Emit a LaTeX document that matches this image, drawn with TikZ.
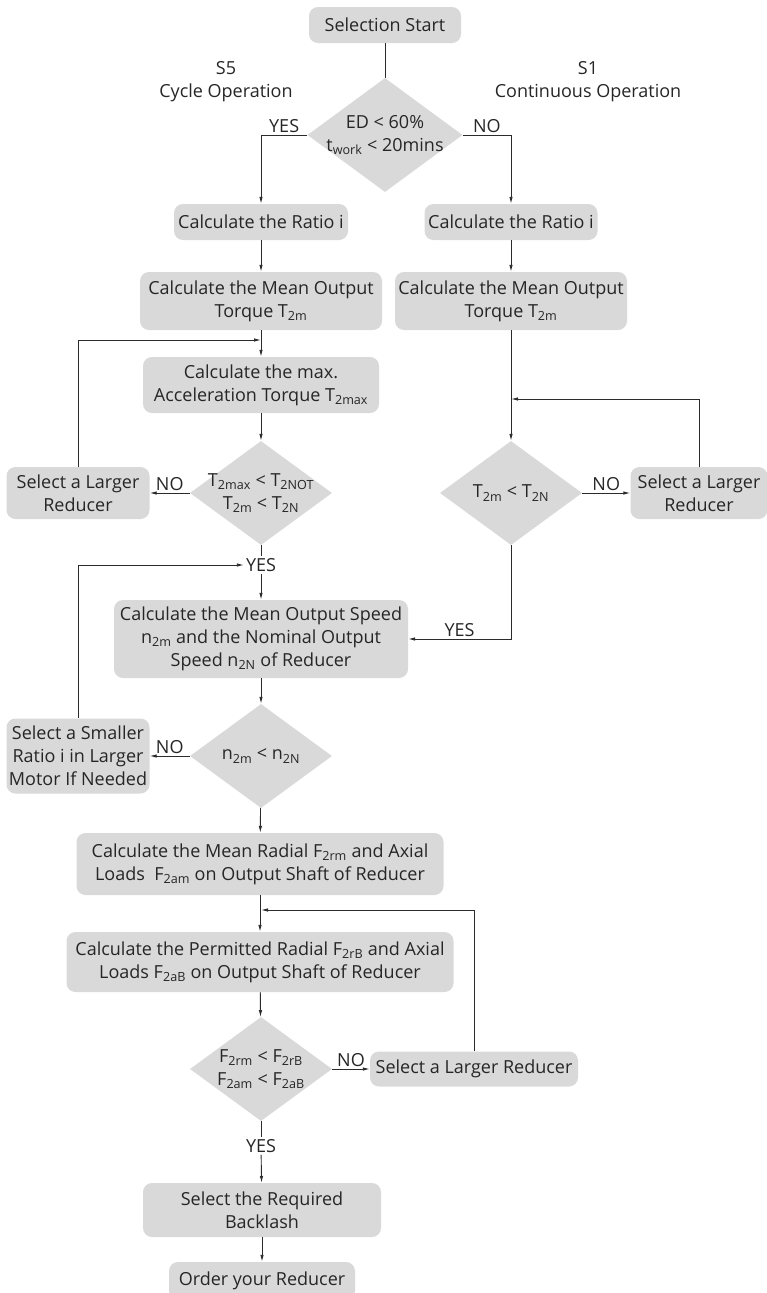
\documentclass[tikz,border=0pt]{standalone}
\usepackage{fontspec}
\setmainfont{Open Sans}
\usepackage{xcolor}
\usetikzlibrary{shapes.geometric, arrows.meta, positioning}
\definecolor{boxgray}{HTML}{D9D9D9}
\definecolor{linegray}{HTML}{2B2B2B}

\begin{document}
\begin{tikzpicture}[x=1pt, y=-1pt, >={Latex[length=7pt,width=3.5pt]},
    font=\fontsize{18}{23}\selectfont, text=black!85,
    box/.style={fill=boxgray, rounded corners=9pt, align=center, inner sep=0pt},
    decision/.style={diamond, fill=boxgray, inner sep=0pt, minimum width=142, minimum height=104},
    lbl/.style={inner sep=2pt},
    line/.style={draw=linegray, line width=0.9pt}]
    \useasboundingbox (0,0) rectangle (767,1293);

    % Bắt đầu và điều kiện chọn chế độ
    \node[box, minimum width=152, minimum height=36] (start) at (385,25) {Selection Start};
    \node[decision, minimum width=155, minimum height=114] (d1) at (385,135) {};
    \node[align=center] at (d1) {ED < 60\%\\t\textsubscript{work} < 20mins};
    \node[align=center] (s5) at (226,82) {S5\\Cycle Operation};
    \node[align=center] (s1) at (588,82) {S1\\Continuous Operation};

    % Nhánh S5 (trái)
    \node[box, minimum width=174, minimum height=36] (ratioL) at (261,222) {Calculate the Ratio i};
    \node[box, minimum width=242, minimum height=58] (torqueL) at (261,301) {Calculate the Mean Output\\Torque T\textsubscript{2m}};
    \node[box, minimum width=236, minimum height=56] (accel) at (261,385) {Calculate the max.\\Acceleration Torque T\textsubscript{2max}};
    \node[decision] (d2) at (261,493) {};
    \node[align=center] at (d2) {T\textsubscript{2max} < T\textsubscript{2NOT}\\T\textsubscript{2m} < T\textsubscript{2N}};
    \node[box, minimum width=143, minimum height=52] (largerL) at (78,493) {Select a Larger\\Reducer};

    % Nhánh S1 (phải)
    \node[box, minimum width=173, minimum height=36] (ratioR) at (511,222) {Calculate the Ratio i};
    \node[box, minimum width=232, minimum height=58] (torqueR) at (511,301) {Calculate the Mean Output\\Torque T\textsubscript{2m}};
    \node[decision] (d3) at (511,493) {};
    \node at (d3) {T\textsubscript{2m} < T\textsubscript{2N}};
    \node[box, minimum width=137, minimum height=52] (largerR) at (699,493) {Select a Larger\\Reducer};

    % Tốc độ đầu ra
    \node[lbl] (yes1) at (261,565) {YES};
    \node[box, minimum width=294, minimum height=78] (speed) at (261,639) {Calculate the Mean Output Speed\\n\textsubscript{2m} and the Nominal Output\\Speed n\textsubscript{2N} of Reducer};
    \node[decision] (d4) at (261,756) {};
    \node at (d4) {n\textsubscript{2m} < n\textsubscript{2N}};
    \node[box, minimum width=143, minimum height=75] (smaller) at (78,756) {Select a Smaller\\Ratio i in Larger\\Motor If Needed};

    % Tải trọng trục ra
    \node[box, minimum width=367, minimum height=62] (radial) at (260,864) {Calculate the Mean Radial F\textsubscript{2rm} and Axial\\Loads\ \ F\textsubscript{2am} on Output Shaft of Reducer};
    \node[box, minimum width=387, minimum height=60] (permit) at (260,962) {Calculate the Permitted Radial F\textsubscript{2rB} and Axial\\Loads F\textsubscript{2aB} on Output Shaft of Reducer};
    \node[decision] (d5) at (261,1069) {};
    \node[align=center] at (d5) {F\textsubscript{2rm} < F\textsubscript{2rB}\\F\textsubscript{2am} < F\textsubscript{2aB}};
    \node[box, minimum width=208, minimum height=35] (larger3) at (474,1069) {Select a Larger Reducer};
    \node[lbl] (yes2) at (261,1146) {YES};
    \node[box, minimum width=238, minimum height=54] (backlash) at (262,1210) {Select the Required\\Backlash};
    \node[box, minimum width=186, minimum height=38] (order) at (262,1281) {Order your Reducer};

    % Điểm nối của các vòng lặp
    \coordinate (j1) at (261,340);
    \coordinate (j2) at (511,399);
    \coordinate (j3) at (261,910);

    % Mũi tên
    \draw[line] (start) -- (d1);
    \draw[line,->] (d1.west) -| (ratioL.north) node[lbl, pos=0.25, above] {YES};
    \draw[line,->] (d1.east) -| (ratioR.north) node[lbl, pos=0.25, above] {NO};
    \draw[line,->] (ratioL) -- (torqueL);
    \draw[line,->] (ratioR) -- (torqueR);
    \draw[line,->] (torqueL) -- (accel);
    \draw[line,->] (largerL.north) |- (j1);
    \draw[line,->] (accel) -- (d2);
    \draw[line,->] (d2) -- (largerL) node[lbl, midway, above] {NO};
    \draw[line] (d2) -- (yes1);
    \draw[line,->] (yes1) -- (speed);
    \draw[line,->] (smaller.north) |- (yes1);
    \draw[line,->] (torqueR) -- (d3);
    \draw[line,->] (largerR.north) |- (j2);
    \draw[line,->] (d3) -- (largerR) node[lbl, midway, above] {NO};
    \draw[line,->] (d3.south) |- (speed.east) node[lbl, pos=0.75, above] {YES};
    \draw[line,->] (speed) -- (d4);
    \draw[line,->] (d4) -- (smaller) node[lbl, midway, above] {NO};
    \draw[line,->] (d4) -- (radial);
    \draw[line,->] (radial) -- (permit);
    \draw[line,->] (larger3.north) |- (j3);
    \draw[line,->] (permit) -- (d5);
    \draw[line,->] (d5) -- (larger3) node[lbl, midway, above] {NO};
    \draw[line] (d5) -- (yes2);
    \draw[line,->] (yes2) -- (backlash);
    \draw[line,->] (backlash) -- (order);
\end{tikzpicture}
\end{document}
